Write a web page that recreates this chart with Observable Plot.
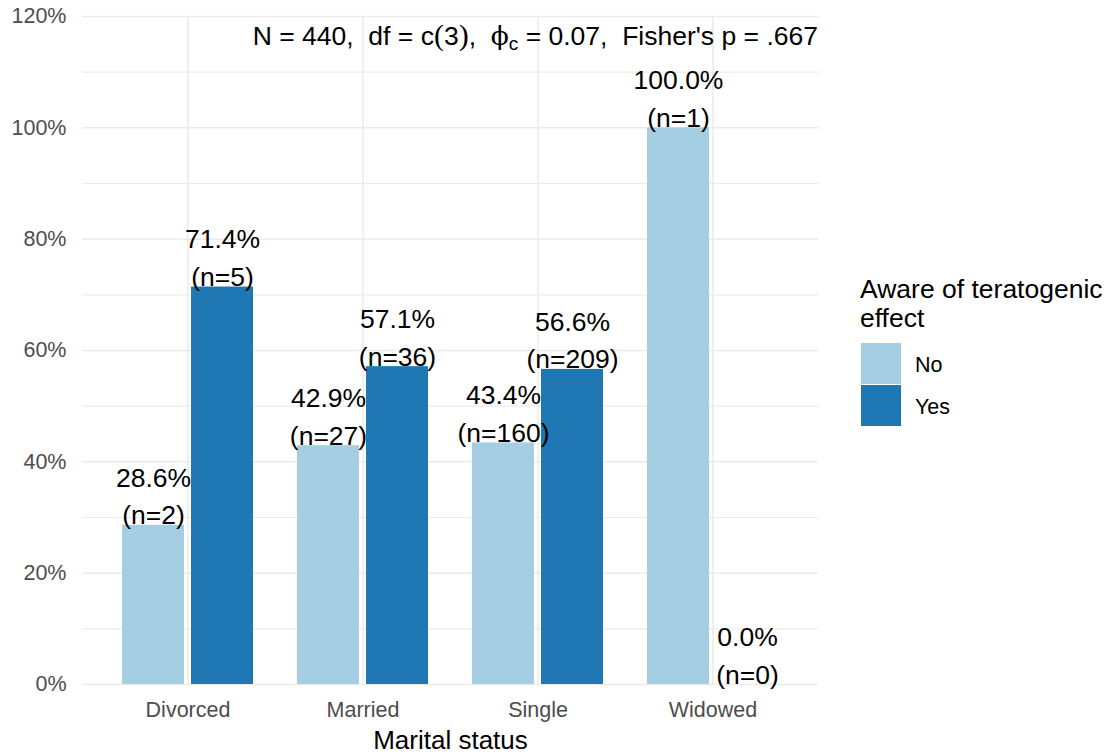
<!DOCTYPE html>
<html><head><meta charset="utf-8">
<script src="https://cdn.jsdelivr.net/npm/d3@7"></script>
<script src="https://cdn.jsdelivr.net/npm/@observablehq/plot@0.6"></script>
<style>html,body{margin:0;padding:0;background:#fff;overflow:hidden}</style>
</head><body><div id="chart"></div>
<script>
// ---- data ----
const categories = ["Divorced", "Married", "Single", "Widowed"];
const groups = ["No", "Yes"];
const pctNo = [28.6, 42.9, 43.4, 100.0];
const pctYes = [71.4, 57.1, 56.6, 0.0];
const nNo = [2, 27, 160, 1];
const nYes = [5, 36, 209, 0];
const yTicks = [0, 20, 40, 60, 80, 100, 120];
const yMinor = [10, 30, 50, 70, 90, 110];
const xTitle = "Marital status";
const legendTitle = ["Aware of teratogenic", "effect"];
const statN = "440", statDf = "3", statPhi = "0.07", statP = ".667";
const colors = ["#a6cee3", "#1f78b4"];

const rows = categories.flatMap((c, i) => [
  {cat: c, group: "No", pct: pctNo[i], n: nNo[i]},
  {cat: c, group: "Yes", pct: pctYes[i], n: nYes[i]}
]);
const noRows = rows.filter(d => d.group === "No");
const yesRows = rows.filter(d => d.group === "Yes");

// ---- layout ----
const W = 1112, H = 753, ML = 82, MR = 294, MT = 16, MB = 69;
const PI = 0.252, PO = 0.2268, GAP = 7;
const stepX = (W - ML - MR) / (categories.length - PI + 2 * PO);
const bw = stepX * (1 - PI);
const barW = (bw - GAP) / 2;
const INSET = bw - barW;
const OFF = (bw - barW) / 2;
const grid = "#ebebeb";
const label = d => d.pct.toFixed(1) + "%\n(n=" + d.n + ")";

const plot = Plot.plot({
  width: W, height: H, marginLeft: ML, marginRight: MR, marginTop: MT, marginBottom: MB,
  style: {fontFamily: "'Liberation Sans', Arial, sans-serif", background: "#fff", overflow: "visible"},
  x: {domain: categories, paddingInner: PI, paddingOuter: PO, align: 0.5, label: null},
  y: {domain: [0, 120], label: null},
  color: {domain: groups, range: colors},
  marks: [
    Plot.gridY(yMinor, {stroke: grid, strokeOpacity: 1, strokeWidth: 1.2}),
    Plot.gridY(yTicks, {stroke: grid, strokeOpacity: 1, strokeWidth: 1.5}),
    Plot.gridX(categories, {stroke: grid, strokeOpacity: 1, strokeWidth: 1.5}),
    Plot.barY(noRows, {x: "cat", y: "pct", fill: "group", insetRight: INSET}),
    Plot.barY(yesRows, {x: "cat", y: "pct", fill: "group", insetLeft: INSET}),
    Plot.text(noRows, {x: "cat", y: "pct", text: label, dx: -OFF, dy: -1, lineAnchor: "bottom", lineHeight: 1.42, fontSize: 26.5, fill: "black"}),
    Plot.text(yesRows, {x: "cat", y: "pct", text: label, dx: OFF, dy: -1, lineAnchor: "bottom", lineHeight: 1.42, fontSize: 26.5, fill: "black"}),
    Plot.axisY(yTicks, {tickSize: 0, tickPadding: 16, tickFormat: d => d + "%", fontSize: 21.5, fill: "#4d4d4d", label: null}),
    Plot.axisX({tickSize: 0, tickPadding: 17, fontSize: 21.5, fill: "#4d4d4d", label: null}),
    Plot.text([xTitle], {frameAnchor: "bottom", dy: 64, lineAnchor: "bottom", fontSize: 26, fill: "black"})
  ]
});

const svg = d3.select(plot);
// statistics subtitle (inside panel, right aligned)
const sub = svg.append("text")
  .attr("x", W - MR).attr("y", 45).attr("text-anchor", "end")
  .attr("font-size", 26.5).attr("fill", "black").style("white-space", "pre");
sub.append("tspan").text("N = " + statN + ",  df = c");
sub.append("tspan").attr("font-family", "'Liberation Serif', serif").attr("font-size", 30).text("(");
sub.append("tspan").text(statDf);
sub.append("tspan").attr("font-family", "'Liberation Serif', serif").attr("font-size", 30).text(")");
sub.append("tspan").text(",  ");
sub.append("tspan").attr("font-family", "'DejaVu Serif', serif").text("ϕ");
sub.append("tspan").attr("font-size", 19).attr("dy", 5).text("c");
sub.append("tspan").attr("dy", -5).text(" = " + statPhi + ",  Fisher's p = " + statP);

// legend
const color = plot.scale("color");
const lg = svg.append("g").attr("font-family", "'Liberation Sans', Arial, sans-serif").attr("fill", "black").attr("text-anchor", "start");
legendTitle.forEach((t, i) => lg.append("text").attr("x", 860).attr("y", 298 + i * 29).attr("font-size", 26.5).text(t));
groups.forEach((g, i) => {
  lg.append("rect").attr("x", 861).attr("y", 343 + i * 42).attr("width", 40).attr("height", 41).attr("fill", color.apply(g));
  lg.append("text").attr("x", 915).attr("y", 364 + i * 42).attr("dy", "0.35em").attr("font-size", 21.5).text(g);
});

document.getElementById("chart").appendChild(plot);
</script>
</body></html>
